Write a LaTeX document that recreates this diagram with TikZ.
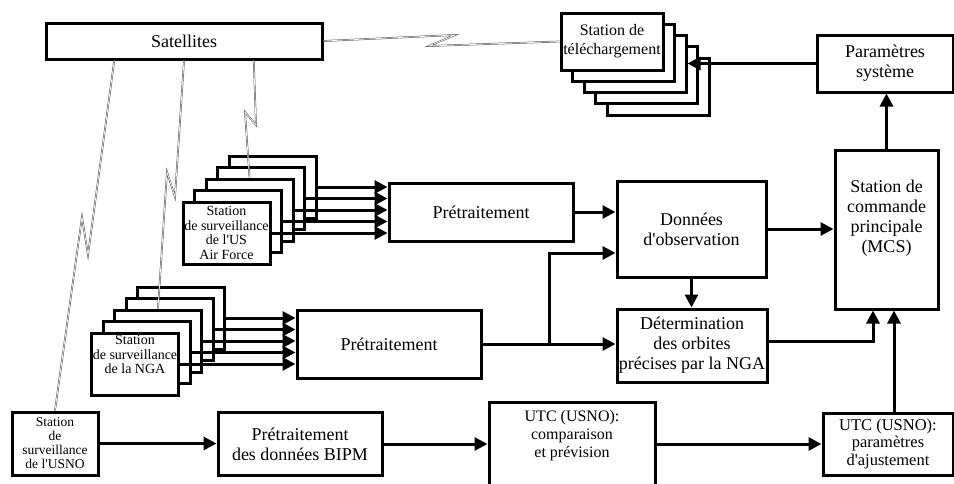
\documentclass[tikz,border=0pt]{standalone}
\usepackage{fontspec}
\setmainfont{Liberation Serif}
\usetikzlibrary{arrows.meta,calc}

\begin{document}
\begin{tikzpicture}[x=1pt,y=-1pt,
  box/.style={draw,line width=3pt,fill=white,inner sep=0pt,align=center,font=\fontsize{18}{20}\selectfont},
  stk/.style={box,minimum width=87pt,minimum height=62pt,font=\fontsize{14}{14.5}\selectfont},
  tel/.style={box,minimum width=102pt,minimum height=57pt,font=\fontsize{16}{19}\selectfont},
  arr/.style={line width=3pt,-{Triangle[length=13pt,width=13pt]}},
  radio/.style={draw=black!70,line width=0.5pt,double=white,double distance=0.7pt}]
\useasboundingbox (0,0) rectangle (954,483);

% satellites and upload station
\node[box,minimum width=276pt,minimum height=36pt] (sat) at (184,41) {Satellites};
\foreach \i in {4,3,2,1}
  \node[tel] (tele\i) at ({612+11.5*\i},{41.5+11.3*\i}) {};
\node[tel] (tele0) at (612,41.5) {Station de\\téléchargement};
\node[box,minimum width=136pt,minimum height=57pt] (param) at (885,63.5) {Paramètres\\système};

% monitor stations
\foreach \i in {4,3,2,1}
  \node[stk] (usaf\i) at ({226.5+11.5*\i},{233-11.5*\i}) {};
\node[stk] (usaf0) at (226.5,233) {Station\\de surveillance\\de l\textquotesingle US\\Air Force};
\foreach \i in {4,3,2,1}
  \node[stk] (nga\i) at ({135+11.5*\i},{364-11.5*\i}) {};
\node[stk] (nga0) at (135,364) {Station\\de surveillance\\de la NGA\\[4pt]};
\node[stk,minimum width=86pt,minimum height=63pt,font=\fontsize{13.5}{14}\selectfont] (usno) at (55,443.5) {Station\\de\\surveillance\\de l\textquotesingle USNO};

% processing
\node[box,minimum width=184pt,minimum height=58pt] (pre1) at (481,212) {Prétraitement};
\node[box,minimum width=184pt,minimum height=68pt] (pre2) at (389,344) {Prétraitement};
\node[box,minimum width=149pt,minimum height=96pt] (don) at (691.5,229) {Données\\d\textquotesingle observation};
\node[box,minimum width=150pt,minimum height=73pt] (det) at (692,345.5) {Détermination\\des orbites\\précises par la NGA};
\node[box,minimum width=103pt,minimum height=159pt] (mcs) at (886.5,229.5) {};
\node[align=center,font=\fontsize{18}{20}\selectfont] (mcstxt) at ([yshift=11pt]mcs.center) {Station de\\commande\\principale\\(MCS)};
\node[box,minimum width=164pt,minimum height=63pt] (bipm) at (300,444) {Prétraitement\\des données BIPM};
\node[box,minimum width=166pt,minimum height=100pt] (utcc) at (572,452) {};
\node[align=center,font=\fontsize{16}{18}\selectfont] (utcctxt) at (572,436) {UTC (USNO):\\comparaison\\et prévision};
\node[box,minimum width=130pt,minimum height=62pt,font=\fontsize{16.5}{17.5}\selectfont] (utcp) at (888,444) {UTC (USNO):\\paramètres\\d\textquotesingle ajustement};

% radio links
\draw[radio] ($(sat.south west)!0.25!(sat.south east)$) -- (88,255) -- (82,217) -- (usno.north);
\draw[radio] ($(sat.south west)!0.5!(sat.south east)$) -- (175,197) -- (167,172) -- (nga2.north);
\draw[radio] ($(sat.south west)!0.75!(sat.south east)$) -- (256,125) -- (245,112) -- (usaf2.north);
\draw[radio] (sat.east) -- (455,35) -- (429,46) -- (tele0.west);

% data flow
\foreach \i in {0,...,4}
  \draw[arr] (usaf\i.east) -- (usaf\i.east -| pre1.west);
\foreach \i in {0,...,4}
  \draw[arr] (nga\i.east) -- (nga\i.east -| pre2.west);
\coordinate (br) at (549,344);
\draw[arr] (pre1.east) -- (pre1.east -| don.west);
\draw[arr] (pre2.east) -- (pre2.east -| det.west);
\draw[arr] (br) |- ([yshift=-24pt]don.west);
\draw[arr] (don.east) -- (don.east -| mcs.west);
\draw[arr] (don.south) -- (don.south |- det.north);
\draw[arr] ([yshift=4pt]det.east) -| ([xshift=-13.5pt]mcs.south);
\draw[arr] ([xshift=6pt]utcp.north) -- ([xshift=6pt]utcp.north |- mcs.south);
\draw[arr] (mcs.north) -- (mcs.north |- param.south);
\draw[arr] (param.west) -- (param.west -| tele2.east);
\draw[arr] (usno.east) -- (usno.east -| bipm.west);
\draw[arr] (bipm.east) -- (bipm.east -| utcc.west);
\draw[arr] (utcc.east |- utcp.west) -- (utcp.west);
\end{tikzpicture}
\end{document}
